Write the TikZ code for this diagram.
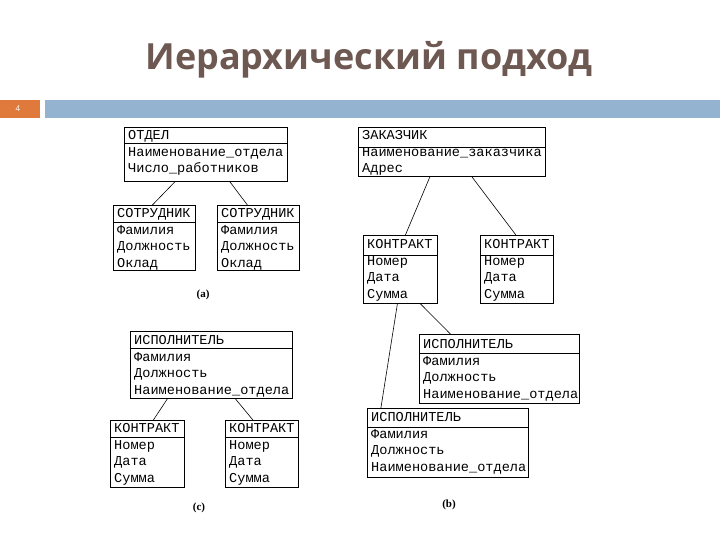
\documentclass[tikz,border=0pt]{standalone}
\usepackage{fontspec}
\setmainfont{Open Sans}
\newfontfamily\monof{Liberation Mono}
\newfontfamily\seriff{Liberation Serif}
\definecolor{titlec}{RGB}{110,88,82}
\definecolor{barblue}{RGB}{147,179,208}
\definecolor{barorange}{RGB}{224,122,60}
\tikzset{ent/.style={draw,line width=0.8pt,inner sep=0pt,anchor=north west},
 etxt/.style={anchor=base west,inner sep=0pt,font=\monof\fontsize{13.6}{15}\selectfont},
 link/.style={line width=0.6pt},
 lbl/.style={font=\seriff\bfseries\fontsize{11}{13}\selectfont}}
\newcommand\ebox[8]{%
 \node[ent,minimum width=#4pt-#2pt,minimum height=#5pt-#3pt] (#1) at (#2,#3) {};
 \draw[line width=0.8pt] (#2,#6) -- (#4,#6);
 \foreach \q [count=\i from 0] in {#8} {\node[etxt] at (#2+4,#7+4.5+16.5*\i) {\q};}}
\begin{document}
\begin{tikzpicture}[x=1pt,y=-1pt]
\useasboundingbox (0,0) rectangle (720,540);
\fill[white] (0,0) rectangle (720,540);
\node[font=\bfseries\fontsize{36}{40}\selectfont,text=titlec] (title) at (369,60) {Иерархический подход};
\fill[barorange] (0,100) rectangle (40,118);
\node[text=white,font=\fontsize{8}{9}\selectfont] (num) at (18,109) {4};
\fill[barblue] (45,100) rectangle (720,118);
% (a)
\ebox{otdel}{124}{127}{287}{181}{143}{135.5}{ОТДЕЛ,Наименование\_отдела,Число\_работников}
\ebox{s1}{113}{205}{195}{270}{222}{213.5}{СОТРУДНИК,Фамилия,Должность,Оклад}
\ebox{s2}{217}{205}{299}{270}{222}{213.5}{СОТРУДНИК,Фамилия,Должность,Оклад}
\draw[link] ([xshift=-31pt]otdel.south) -- ([xshift=-2pt]s1.north);
\draw[link] ([xshift=24pt]otdel.south) -- ([xshift=-11pt]s2.north);
\node[lbl] (ca) at (203,295) {(a)};
% (b)
\ebox{zak}{358}{127}{545}{176}{147}{135.5}{ЗАКАЗЧИК,Наименование\_заказчика,Адрес}
\ebox{k1}{363}{235}{437}{303}{255}{244}{КОНТРАКТ,Номер,Дата,Сумма}
\ebox{k2}{480}{235}{553}{303}{255}{244}{КОНТРАКТ,Номер,Дата,Сумма}
\draw[link] ([xshift=-22pt]zak.south) -- ([xshift=5pt]k1.north);
\draw[link] ([xshift=20pt]zak.south) -- ([xshift=-1pt]k2.north);
\ebox{i1}{419}{334}{579}{403}{353}{344}{ИСПОЛНИТЕЛЬ,Фамилия,Должность,Наименование\_отдела}
\ebox{i2}{367}{408}{528}{477}{427}{417}{ИСПОЛНИТЕЛЬ,Фамилия,Должность,Наименование\_отдела}
\draw[link] ([xshift=20pt]k1.south) -- ([xshift=-49pt]i1.north);
\draw[link] ([xshift=-3pt]k1.south) -- ([xshift=-67pt]i2.north);
\node[lbl] (cb) at (449,505) {(b)};
% (c)
\ebox{ic}{130}{331}{292}{398}{348}{340}{ИСПОЛНИТЕЛЬ,Фамилия,Должность,Наименование\_отдела}
\ebox{c1}{110}{420}{184}{487}{437}{428}{КОНТРАКТ,Номер,Дата,Сумма}
\ebox{c2}{225}{420}{298}{487}{437}{428}{КОНТРАКТ,Номер,Дата,Сумма}
\draw[link] ([xshift=-44pt]ic.south) -- ([xshift=6pt]c1.north);
\draw[link] ([xshift=24pt]ic.south) -- ([xshift=-9pt]c2.north);
\node[lbl] (cc) at (199,508) {(c)};
\end{tikzpicture}
\end{document}
